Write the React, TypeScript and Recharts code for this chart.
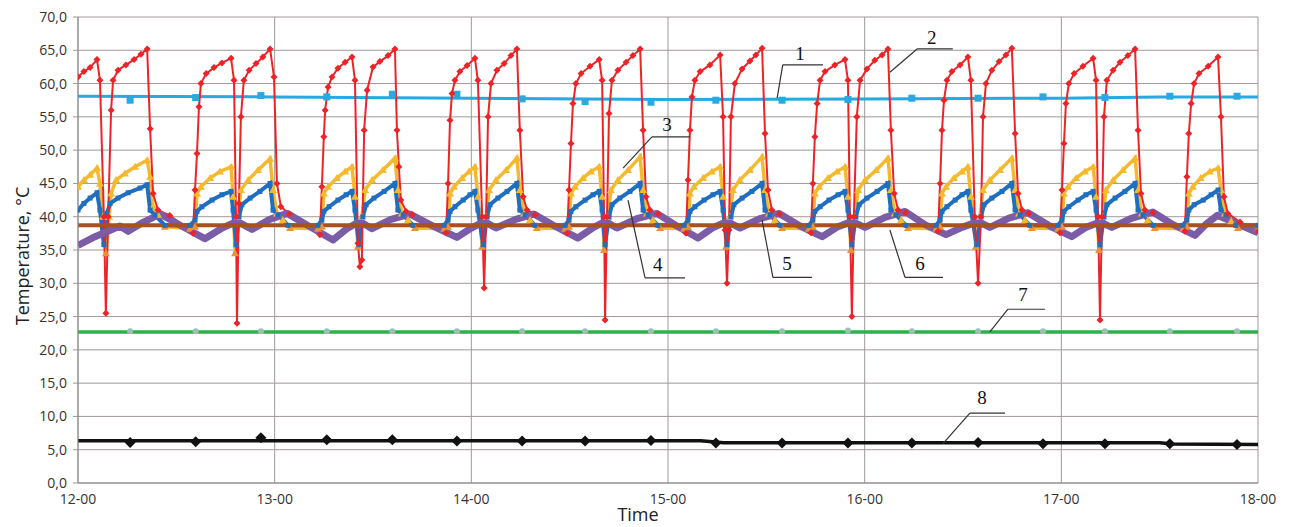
import React from 'react';
import { LineChart, Line, XAxis, YAxis, CartesianGrid, ReferenceLine, ReferenceDot } from 'recharts';

// time in minutes after 12-00, temperature in °C
const timeTicks = [0, 60, 120, 180, 240, 300, 360];
const timeLabels = ['12-00', '13-00', '14-00', '15-00', '16-00', '17-00', '18-00'];
const yTicks = [0, 5, 10, 15, 20, 25, 30, 35, 40, 45, 50, 55, 60, 65, 70];

// 1 - light blue
const lightBluePts = [[0, 58.1], [60, 58.0], [120, 57.8], [180, 57.6], [240, 57.7], [300, 57.8], [330, 58.0], [360, 58.0]];
const markTimes = [15.9, 35.9, 55.8, 75.9, 95.9, 115.6, 135.5, 154.7, 174.8, 194.6, 214.8, 234.9, 254.4, 274.6, 294.4, 313.3, 333.1, 353.6];
const lightBlueMarks = [57.5, 57.9, 58.2, 58.0, 58.4, 58.4, 57.7, 57.3, 57.2, 57.5, 57.5, 57.6, 57.8, 57.8, 58.0, 57.9, 58.1, 58.1];

// 2 - red
const redPts = [
  [0, 61.0], [1.8, 61.8], [3.7, 62.4], [5.8, 63.6], [6.7, 60.5], [7.9, 40], [8.5, 25.5], [9.2, 40], [10.1, 56], [10.7, 60.5], [12.2, 62], [14.6, 62.8], [17.1, 63.6], [19.2, 64.4], [21.1, 65.2], [22.0, 53.2], [22.9, 43.5], [24.4, 41], [28, 40.2], [35.1, 37.5],
  [35.7, 44], [36.3, 49.5], [36.9, 56.5], [37.5, 60], [39.1, 61.5], [41.5, 62.4], [43.9, 63.1], [46.7, 63.8], [47.6, 60.5], [48.2, 40], [48.5, 24], [49.1, 42], [49.7, 55], [50.6, 60.5], [52.2, 62], [54.3, 63], [56.4, 64], [58.6, 65.2], [59.8, 61], [60.7, 45], [61.9, 41.5], [64.5, 40.4], [73.8, 37.3],
  [74.4, 44.5], [75.0, 52], [75.4, 56], [76.3, 59.5], [77.5, 61], [79.3, 62.3], [81.5, 63.2], [83.6, 64], [84.5, 60.5], [85.4, 36], [86.0, 32.5], [86.6, 33.5], [87.3, 53], [88.2, 59], [90.0, 62.5], [92.1, 63.3], [94.6, 64.2], [96.7, 65.2], [97.3, 53], [97.9, 47.5], [98.5, 42.5], [100.1, 40.8], [102, 40.3], [112.3, 37.6],
  [112.9, 45], [113.5, 54.5], [114.1, 58.5], [115.0, 60.5], [116.5, 61.8], [118.7, 62.7], [121.1, 63.8], [122.0, 60.5], [123.3, 40], [123.9, 29.3], [124.5, 40], [125.1, 55], [126.0, 60], [127.8, 62], [130.0, 63], [132.1, 64.2], [133.9, 65.2], [134.8, 53], [135.8, 43], [137.0, 41], [139.5, 40.3], [149.2, 37.5],
  [149.8, 44], [150.4, 51], [151.0, 57], [151.9, 60], [153.5, 61.5], [156.2, 62.6], [159.0, 63.6], [159.9, 60.5], [160.5, 40], [160.8, 24.5], [161.4, 40], [162.0, 55.5], [162.9, 60.5], [164.7, 62], [167.2, 63.2], [169.3, 64.2], [171.5, 65.2], [172.4, 53], [173.3, 43], [174.5, 41], [177, 40.4], [185.5, 37.5],
  [186.1, 45.5], [186.7, 53], [187.3, 58], [188.2, 60.5], [189.8, 61.8], [192.8, 62.8], [195.9, 64.3], [196.8, 55], [197.4, 38], [198.0, 30], [198.6, 38], [199.2, 55], [200.4, 60], [202.6, 62.2], [205.0, 63.4], [206.8, 64.3], [208.7, 65.3], [209.6, 52.5], [210.5, 44], [211.7, 41], [214, 40.4], [223.6, 37.6],
  [224.2, 45], [224.8, 52], [225.5, 57], [226.4, 60.5], [227.9, 61.8], [230.9, 62.8], [234.0, 63.6], [234.9, 60.5], [235.5, 40], [236.1, 25], [236.7, 40], [237.6, 55], [238.6, 60.5], [240.7, 62.2], [243.1, 63.5], [245.3, 64.3], [247.1, 65.2], [248.0, 53], [249.0, 43.5], [250.2, 41], [252.5, 40.6], [262.4, 37.8],
  [263.0, 45], [263.6, 53], [264.2, 57.5], [265.1, 60.5], [266.6, 61.8], [269.1, 62.8], [271.5, 64], [272.4, 60.5], [273.6, 40], [274.6, 30], [275.5, 40], [276.1, 55], [277.0, 60], [278.8, 62], [281.0, 63.3], [283.1, 64.3], [284.9, 65.3], [285.9, 52.5], [286.8, 43.5], [288.0, 41], [290, 40.5], [299.6, 37.6],
  [300.2, 44], [300.8, 51], [301.4, 57], [302.3, 60], [303.9, 61.5], [306.6, 62.6], [309.7, 63.8], [310.6, 60.5], [311.2, 40], [311.8, 24.5], [312.4, 40], [313.0, 55], [313.9, 60.5], [315.8, 62], [317.9, 63.2], [320.3, 64.2], [322.5, 65.2], [323.4, 53], [324.3, 43.5], [325.5, 41], [328, 40.6], [337.7, 37.8],
  [338.3, 46], [338.9, 52.5], [339.6, 57], [340.5, 60], [342.0, 61.5], [344.8, 62.6], [347.8, 64], [348.7, 55], [349.6, 43], [350.8, 40.5], [354.5, 39.2], [360, 37.8],
];

// 3 - yellow
const yellowPts = [
  [0, 44.5], [1.8, 45.5], [3.7, 46.3], [5.8, 47.3], [6.7, 45], [7.6, 40], [8.5, 34.5], [9.5, 40], [10.1, 43.5], [11.6, 45.5], [14.3, 46.5], [17.4, 47.5], [21.1, 48.5], [22.0, 46], [22.9, 41.5], [24.4, 40.3], [26.5, 38.5], [34.2, 38.2],
  [35.7, 38.5], [36.3, 43.5], [37.5, 44.5], [40.3, 45.8], [43.3, 46.8], [46.7, 47.5], [47.3, 43], [47.9, 34.5], [48.8, 40], [49.7, 44], [51.9, 45.5], [54.9, 47], [58.6, 48.7], [59.5, 44], [60.7, 40.5], [62.5, 39.5], [64.7, 38.3], [73.2, 38.2],
  [74.4, 38.5], [75.0, 43.5], [76.3, 44.5], [79.0, 45.8], [81.5, 46.8], [83.6, 47.5], [84.5, 43], [85.4, 35.5], [86.6, 40], [87.6, 44], [89.7, 45.5], [93.0, 47], [96.7, 48.8], [97.6, 44], [98.8, 40.5], [100.7, 39.5], [102.8, 38.3], [111.7, 38.2],
  [112.9, 38.5], [113.5, 43.5], [114.7, 44.5], [117.2, 45.8], [119.3, 46.8], [121.1, 47.5], [122.0, 43], [123.3, 35.5], [124.5, 40], [125.4, 44], [127.5, 45.5], [130.6, 47], [133.9, 48.8], [134.8, 44], [136.1, 40.5], [137.9, 39.5], [140.0, 38.3], [148.6, 38.2],
  [149.8, 38.5], [150.4, 43.5], [151.6, 44.5], [154.1, 45.8], [156.5, 46.8], [159.0, 47.5], [159.9, 43], [160.5, 35], [161.7, 40], [162.6, 44], [164.7, 45.5], [167.8, 47], [171.5, 49], [172.4, 44], [173.6, 40.5], [175.4, 39.5], [177.6, 38.3], [184.9, 38.2],
  [186.1, 38.5], [186.7, 43.5], [187.9, 44.5], [190.7, 45.8], [193.4, 46.8], [195.9, 47.5], [196.8, 43], [197.7, 35.5], [198.9, 40], [199.8, 44], [201.9, 45.5], [205.0, 47], [208.7, 49], [209.6, 44], [210.8, 40.5], [212.6, 39.5], [214.8, 38.3], [223.0, 38.2],
  [224.2, 38.5], [224.8, 43.5], [226.1, 44.5], [228.8, 45.8], [231.6, 46.8], [234.0, 47.5], [234.9, 43], [235.8, 35], [237.0, 40], [238.0, 44], [240.1, 45.5], [243.5, 47], [247.1, 48.8], [248.0, 44], [249.2, 40.5], [251.1, 39.5], [253.2, 38.3], [261.8, 38.2],
  [263.0, 38.5], [263.6, 43.5], [264.8, 44.5], [267.2, 45.8], [269.7, 46.8], [271.5, 47.5], [272.4, 43], [273.9, 35.5], [275.2, 40], [276.1, 44], [278.2, 45.5], [281.3, 47], [284.9, 48.8], [285.9, 44], [287.1, 40.5], [288.9, 39.5], [291.0, 38.3], [299.0, 38.2],
  [300.2, 38.5], [300.8, 43.5], [302.0, 44.5], [304.5, 45.8], [307.2, 46.8], [309.7, 47.5], [310.6, 43], [311.5, 35], [312.7, 40], [313.6, 44], [315.8, 45.5], [318.8, 47], [322.5, 48.8], [323.4, 44], [324.6, 40.5], [326.4, 39.5], [328.5, 38.3], [337.1, 38.2],
  [338.3, 38.5], [338.9, 43.5], [340.1, 44.5], [342.5, 45.8], [345.3, 46.8], [347.8, 47.3], [348.7, 44], [349.9, 40.5], [351.8, 39.3], [353.9, 38.3], [360, 38.2],
];

// 4 - blue
const bluePts = [
  [0, 41], [1.8, 42], [3.7, 42.8], [5.8, 43.6], [6.7, 41], [7.9, 35.8], [8.8, 40.5], [9.8, 42], [12.2, 42.8], [15.3, 43.6], [18.9, 44.3], [21.1, 44.8], [22.0, 41], [23.5, 40.2], [26.5, 38.7], [34.2, 38.7],
  [35.7, 39.5], [36.3, 40.8], [37.8, 41.5], [40.9, 42.5], [43.9, 43.3], [46.7, 43.8], [47.3, 41], [48.2, 35.8], [49.1, 40], [50.0, 41.8], [52.5, 42.8], [55.5, 43.8], [58.6, 45], [59.5, 41], [61.0, 40.3], [64.1, 38.7], [73.2, 38.7],
  [74.4, 39.5], [75.0, 40.8], [76.6, 41.5], [79.3, 42.5], [81.8, 43.3], [83.6, 43.8], [84.5, 41], [85.7, 35.8], [86.9, 40], [87.9, 41.8], [90.3, 42.8], [93.4, 43.8], [96.7, 45], [97.6, 41], [99.2, 40.3], [102.2, 38.7], [111.7, 38.7],
  [112.9, 39.5], [113.5, 40.8], [115.0, 41.5], [117.5, 42.5], [119.6, 43.3], [121.1, 43.8], [122.0, 41], [123.6, 35.8], [124.8, 40], [125.7, 41.8], [128.1, 42.8], [130.9, 43.8], [133.9, 45], [134.8, 41], [136.4, 40.3], [139.4, 38.7], [148.6, 38.7],
  [149.8, 39.5], [150.4, 40.8], [151.9, 41.5], [154.7, 42.5], [157.1, 43.3], [159.0, 43.8], [159.9, 41], [160.8, 35.8], [162.0, 40], [162.9, 41.8], [165.3, 42.8], [168.4, 43.8], [171.5, 45], [172.4, 41], [173.9, 40.3], [176.9, 38.7], [184.9, 38.7],
  [186.1, 39.5], [186.7, 40.8], [188.2, 41.5], [191.0, 42.5], [193.7, 43.3], [195.9, 43.8], [196.8, 41], [198.0, 35.8], [199.2, 40], [200.1, 41.8], [202.6, 42.8], [205.6, 43.8], [208.7, 45], [209.6, 41], [211.1, 40.3], [214.2, 38.7], [223.0, 38.7],
  [224.2, 39.5], [224.8, 40.8], [226.4, 41.5], [229.1, 42.5], [231.9, 43.3], [234.0, 43.8], [234.9, 41], [236.1, 35.8], [237.3, 40], [238.3, 41.8], [240.7, 42.8], [243.8, 43.8], [247.1, 45], [248.0, 41], [249.5, 40.3], [252.6, 38.7], [261.8, 38.7],
  [263.0, 39.5], [263.6, 40.8], [265.1, 41.5], [267.6, 42.5], [269.7, 43.3], [271.5, 43.8], [272.4, 41], [274.2, 35.8], [275.5, 40], [276.4, 41.8], [278.8, 42.8], [281.9, 43.8], [284.9, 45], [285.9, 41], [287.4, 40.3], [290.4, 38.7], [299.0, 38.7],
  [300.2, 39.5], [300.8, 40.8], [302.3, 41.5], [305.1, 42.5], [307.5, 43.3], [309.7, 43.8], [310.6, 41], [311.8, 35.8], [313.0, 40], [313.9, 41.8], [316.4, 42.8], [319.4, 43.8], [322.5, 45], [323.4, 41], [324.9, 40.3], [328.0, 38.7], [337.1, 38.7],
  [338.3, 39.5], [338.9, 41], [340.5, 41.8], [343.3, 42.5], [345.7, 43.3], [347.8, 44], [348.7, 41], [350.2, 40.3], [353.2, 38.7], [360, 38.7],
];

// 5 - purple
const purplePts = [
  [0, 35.7], [5.2, 37], [9.5, 37.9], [12.8, 38.6], [15.3, 37.8], [20, 39.2], [25.0, 40.4], [32.0, 38.5], [38.7, 36.7], [44, 38.3], [48.5, 39.3], [53.1, 38.1], [58.5, 39.6], [63.8, 40.5], [70.8, 38.5], [77.8, 36.5],
  [82, 38.2], [86.0, 39.3], [89.7, 38.2], [95.5, 39.6], [101.3, 40.4], [108.3, 38.6], [115.6, 36.9], [120, 38.3], [123.9, 39.3], [127.5, 38.3], [133.5, 39.6], [139.1, 40.4], [145.8, 38.5], [152.5, 36.8],
  [157, 38.3], [160.8, 39.3], [164.4, 38.3], [170.5, 39.7], [176.6, 40.5], [182.7, 38.6], [189.1, 36.8], [193.5, 38.3], [198.0, 39.3], [202.0, 38.3], [208, 39.7], [213.9, 40.5], [220.3, 38.6], [227.0, 37],
  [231.5, 38.4], [236.1, 39.3], [240.1, 38.4], [246.2, 39.9], [252.3, 40.8], [258.4, 38.8], [264.8, 37.3], [269.7, 38.4], [274.6, 39.3], [278.2, 38.4], [284, 39.8], [289.8, 40.6], [296.5, 38.6], [303.2, 37],
  [307.5, 38.4], [311.8, 39.2], [315.4, 38.4], [321.6, 39.8], [327.9, 40.7], [334.1, 38.8], [340.8, 37.2], [344.2, 38.9], [347.6, 40.2], [353.8, 38.9], [360, 37.6],
];

// 6 - brown, 7 - green, 8 - black
const brownPts = [[0, 38.7], [360, 38.7]];
const greenPts = [[0, 22.7], [360, 22.7]];
const greenMarks = [22.8, 22.8, 22.8, 22.8, 22.8, 22.8, 22.8, 22.8, 22.8, 22.8, 22.8, 22.9, 22.8, 22.8, 22.8, 22.8, 22.8, 22.8];
const blackPts = [[0, 6.35], [190, 6.35], [197, 6.05], [330, 6.05], [334, 5.85], [360, 5.8]];
const blackMarks = [6.1, 6.2, 6.8, 6.5, 6.5, 6.3, 6.3, 6.3, 6.4, 6.0, 6.0, 6.0, 6.0, 6.1, 5.9, 5.9, 5.9, 5.8];

// callouts: number, tip, elbow, end, label position
const callouts = [
  { n: '1', tip: [213.3, 57.8], elbow: [215.0, 62.8], end: [227.3, 62.8], at: [220.3, 64.6] },
  { n: '2', tip: [247.7, 61.7], elbow: [256.0, 65.2], end: [266.9, 65.2], at: [260.5, 67.0] },
  { n: '3', tip: [166.3, 47.3], elbow: [175.1, 52.0], end: [186.7, 52.0], at: [179.7, 53.9] },
  { n: '4', tip: [167.8, 42.5], elbow: [173.0, 30.8], end: [185.2, 30.8], at: [176.9, 32.8] },
  { n: '5', tip: [208.7, 39.5], elbow: [212.0, 30.9], end: [223.9, 30.9], at: [216.3, 33.0] },
  { n: '6', tip: [247.7, 38.0], elbow: [252.3, 30.9], end: [263.9, 30.9], at: [256.9, 33.0] },
  { n: '7', tip: [278.2, 22.7], elbow: [283.7, 26.1], end: [295.0, 26.1], at: [288.3, 28.3] },
  { n: '8', tip: [263.9, 5.9], elbow: [272.1, 10.5], end: [282.8, 10.5], at: [275.8, 12.9] },
];

const toPts = (arr: number[][]) => arr.map(([t, v]) => ({ t, v }));
const toMarks = (vals: number[]) => markTimes.map((t, i) => ({ t, v: vals[i] }));

const font = '"Open Sans", "Liberation Sans", sans-serif';

const diamond = (color: string, s: number) => (p: any) => (
  <path key={`d${p.index}`} d={`M${p.cx} ${p.cy - s}L${p.cx + s} ${p.cy}L${p.cx} ${p.cy + s}L${p.cx - s} ${p.cy}Z`} fill={color} />
);
const square = (color: string, s: number) => (p: any) => (
  <rect key={`s${p.index}`} x={p.cx - s} y={p.cy - s} width={2 * s} height={2 * s} fill={color} />
);
const triangle = (p: any) => {
  const c = p.payload && p.payload.v < 38.6 ? '#e8923a' : '#f5b92e';
  return <path key={`t${p.index}`} d={`M${p.cx} ${p.cy - 4}L${p.cx + 4} ${p.cy + 3}L${p.cx - 4} ${p.cy + 3}Z`} fill={c} />;
};
const circle = (color: string, r: number) => (p: any) => (
  <circle key={`c${p.index}`} cx={p.cx} cy={p.cy} r={r} fill={color} />
);

export default function App() {
  return (
    <div style={{ position: 'absolute', left: 0, top: 0, width: 1290, height: 527, background: '#fff', overflow: 'hidden' }}>
      <LineChart width={1290} height={527} margin={{ top: 17, right: 32, bottom: 14, left: 28 }}>
        <CartesianGrid stroke="#a09898" strokeWidth={1} />
        <XAxis
          type="number"
          dataKey="t"
          domain={[0, 360]}
          ticks={timeTicks}
          tickFormatter={(v: number) => timeLabels[timeTicks.indexOf(v)]}
          height={30}
          tickSize={0}
          tickMargin={11}
          tickLine={false}
          axisLine={{ stroke: '#8a8a8a' }}
          tick={{ fill: '#333', fontSize: 14, fontFamily: font }}
          allowDataOverflow
        />
        <YAxis
          type="number"
          domain={[0, 70]}
          ticks={yTicks}
          width={50}
          tickSize={5}
          tickMargin={6}
          tickLine={{ stroke: '#a09898' }}
          axisLine={{ stroke: '#8a8a8a' }}
          tickFormatter={(v: number) => v.toFixed(1).replace('.', ',')}
          tick={{ fill: '#333', fontSize: 14, fontFamily: font }}
          allowDataOverflow
        />

        <Line data={toPts(lightBluePts)} dataKey="v" stroke="#27a9e1" strokeWidth={3} dot={false} activeDot={false} isAnimationActive={false} />
        <Line data={toMarks(lightBlueMarks)} dataKey="v" stroke="none" dot={square('#27a9e1', 3.5)} activeDot={false} isAnimationActive={false} />
        <Line data={toPts(yellowPts)} dataKey="v" stroke="#f5b92e" strokeWidth={3.5} dot={triangle} activeDot={false} isAnimationActive={false} />
        <Line data={toPts(bluePts)} dataKey="v" stroke="#1f6ec0" strokeWidth={4} dot={square('#1f6ec0', 2.5)} activeDot={false} isAnimationActive={false} />
        <Line data={toPts(redPts)} dataKey="v" stroke="#ec2327" strokeWidth={2} dot={diamond('#ec2327', 3.5)} activeDot={false} isAnimationActive={false} />
        <Line data={toPts(purplePts)} dataKey="v" stroke="#7b5ca7" strokeWidth={7} strokeLinejoin="round" dot={false} activeDot={false} isAnimationActive={false} />
        <Line data={toPts(brownPts)} dataKey="v" stroke="#a8501f" strokeWidth={4} dot={false} activeDot={false} isAnimationActive={false} />
        <Line data={toPts(greenPts)} dataKey="v" stroke="#2cb24c" strokeWidth={3.5} dot={false} activeDot={false} isAnimationActive={false} />
        <Line data={toMarks(greenMarks)} dataKey="v" stroke="none" dot={circle('#9fbfb6', 3)} activeDot={false} isAnimationActive={false} />
        <Line data={toPts(blackPts)} dataKey="v" stroke="#111" strokeWidth={3.5} dot={false} activeDot={false} isAnimationActive={false} />
        <Line data={toMarks(blackMarks)} dataKey="v" stroke="none" dot={diamond('#111', 5.5)} activeDot={false} isAnimationActive={false} />

        {callouts.map((c) => (
          <ReferenceLine
            key={`s${c.n}`}
            segment={[{ x: c.tip[0], y: c.tip[1] }, { x: c.elbow[0], y: c.elbow[1] }]}
            stroke="#333"
            strokeWidth={1.2}
          />
        ))}
        {callouts.map((c) => (
          <ReferenceLine
            key={`h${c.n}`}
            segment={[{ x: c.elbow[0], y: c.elbow[1] }, { x: c.end[0], y: c.end[1] }]}
            stroke="#333"
            strokeWidth={1.2}
          />
        ))}
        {callouts.map((c) => (
          <ReferenceDot
            key={`l${c.n}`}
            x={c.at[0]}
            y={c.at[1]}
            r={0}
            fill="none"
            stroke="none"
            label={{ value: c.n, position: 'center', fill: '#111', fontSize: 19, fontFamily: '"Liberation Serif", serif' }}
          />
        ))}
      </LineChart>
      <div
        style={{
          position: 'absolute', left: 22, top: 256, transform: 'translate(-50%, -50%) rotate(-90deg)',
          whiteSpace: 'nowrap', fontFamily: font, fontSize: 18, color: '#222',
        }}
      >
        Temperature, °C
      </div>
      <div
        style={{
          position: 'absolute', left: 638, top: 514, transform: 'translate(-50%, -50%)',
          whiteSpace: 'nowrap', fontFamily: font, fontSize: 18, lineHeight: '22px', color: '#222',
        }}
      >
        Time
      </div>
    </div>
  );
}
